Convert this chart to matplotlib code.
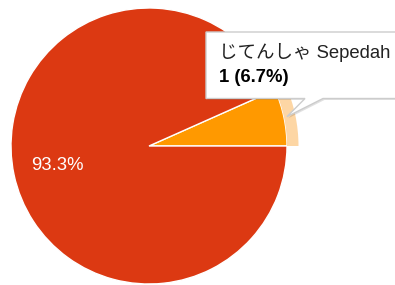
import numpy as np
import matplotlib
matplotlib.use("Agg")
import matplotlib.pyplot as plt
from matplotlib.patches import Wedge, Polygon

# ---- data ----
categories = ["じてんしゃ Sepedah", "Lainnya"]
counts = [1, 14]
colors = ["#FF9900", "#DC3912"]
highlight_color = "#FDD6A4"

W, H = 395, 285
fig = plt.figure(figsize=(W / 100, H / 100), dpi=100)
ax = fig.add_axes([0, 0, 1, 1])

cx, cy, R = 149, H - 146, 138

total = sum(counts)
wedges, texts, autotexts = ax.pie(
    counts, colors=colors, startangle=0, counterclock=True,
    center=(cx, cy), radius=R,
    autopct=lambda p: f"{p:.1f}%" if p > 10 else "",
    pctdistance=0.68,
    wedgeprops=dict(edgecolor="white", linewidth=1.0),
    textprops=dict(color="white", fontsize=13.3, family=["Liberation Sans", "DejaVu Sans"]),
)

# highlighted slice ring (hover state)
frac0 = counts[0] / total
theta2 = 360 * frac0
ring_w = 11.5
ax.add_patch(Wedge((cx, cy), R + ring_w, 0, theta2, width=ring_w,
                   facecolor=highlight_color, edgecolor="none", zorder=1))

# tooltip pointing at slice middle
mid = np.deg2rad(theta2 / 2)
tip = (cx + (R + 3) * np.cos(mid), cy + (R + 3) * np.sin(mid))
bx0, by_top, by_bot = 206, H - 32, H - 98.5
base_l, base_r = 305, 323
pts = [(bx0, by_top), (W + 5, by_top), (W + 5, by_bot), (base_r, by_bot),
       tip, (base_l, by_bot), (bx0, by_bot)]
shadow = Polygon([(x + 1.5, y - 1.5) for x, y in pts], closed=True,
                 facecolor="#000000", alpha=0.12, edgecolor="none", zorder=4)
ax.add_patch(shadow)
ax.add_patch(Polygon(pts, closed=True, facecolor="white", edgecolor="#CCCCCC",
                     linewidth=1.0, zorder=5))

fam = ["Liberation Sans", "Noto Sans CJK JP"]
ax.text(219, H - 52.7, categories[0], fontsize=13.3, family=fam, color="#222222",
        va="center", ha="left", zorder=6)
ax.text(219, H - 78, f"{counts[0]} ({100 * frac0:.1f}%)", fontsize=13.3, family=fam,
        fontweight="bold", color="#000000", va="center", ha="left", zorder=6)

ax.set_xlim(0, W)
ax.set_ylim(0, H)
ax.set_aspect("equal")
ax.axis("off")

fig.savefig("out.png", dpi=100, facecolor="white")
